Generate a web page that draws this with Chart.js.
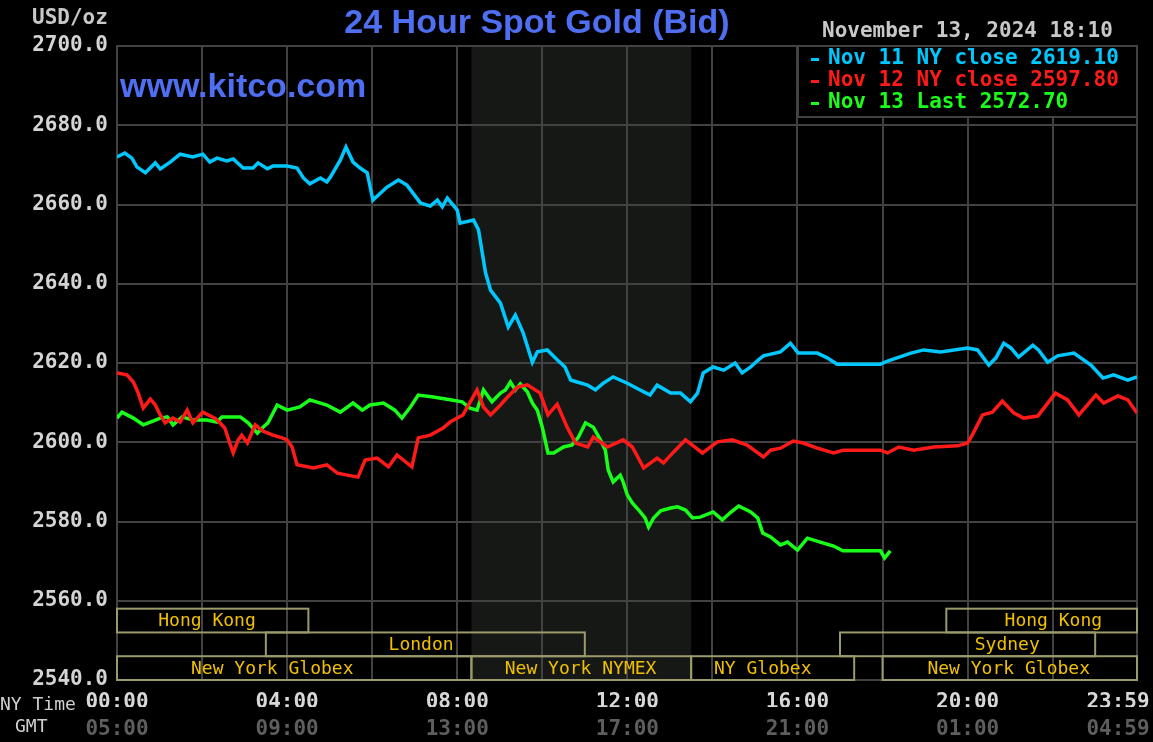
<!DOCTYPE html>
<html>
<head>
<meta charset="utf-8">
<title>24 Hour Spot Gold (Bid)</title>
<script src="https://cdn.jsdelivr.net/npm/chart.js@4.4.1/dist/chart.umd.min.js"></script>
<style>
  html, body { margin: 0; padding: 0; background: #000; }
  canvas { display: block; }
</style>
</head>
<body>
<canvas id="gold" width="1153" height="742"></canvas>
<script>
// times are NY minutes after midnight, values in USD/oz
const blueTime = [0,11,21,28,40,54,61,75,89,107,121,131,141,155,164,178,192,199,212,220,
  240,254,263,272,287,296,301,315,323,333,343,353,361,381,397,409,428,442,452,459,
  466,480,484,503,510,520,527,541,552,562,573,586,593,607,621,632,640,649,664,675,
  686,700,720,738,752,762,781,795,809,819,827,841,856,872,882,894,905,912,936,950,
  961,988,1002,1016,1077,1087,1120,1138,1162,1200,1214,1230,1240,1251,1261,1272,1292,1300,1313,1327,
  1350,1374,1391,1406,1426,1439];
const blueValue = [2672.0,2673.0,2671.7,2669.5,2668.0,2670.5,2669.0,2670.7,2672.7,2672.0,2672.7,2670.7,2671.7,2671.0,2671.5,2669.2,2669.2,2670.5,2669.0,2669.7,
  2669.7,2669.2,2666.7,2665.2,2666.7,2665.7,2666.9,2671.2,2674.5,2670.7,2669.2,2668.0,2661.1,2664.4,2666.2,2664.9,2660.4,2659.6,2661.1,2659.4,
  2661.6,2658.6,2655.3,2656.1,2653.6,2642.7,2638.4,2635.1,2629.1,2632.1,2627.6,2620.2,2622.8,2623.3,2620.8,2619.0,2615.7,2615.2,2614.4,2613.2,
  2614.9,2616.5,2614.9,2613.2,2611.9,2614.4,2612.4,2612.4,2610.2,2612.4,2617.5,2619.0,2618.2,2620.0,2617.5,2619.0,2620.8,2621.8,2622.8,2625.0,
  2622.5,2622.5,2621.3,2619.7,2619.7,2620.5,2622.5,2623.3,2622.8,2623.8,2623.3,2619.5,2621.3,2625.0,2623.8,2621.5,2624.5,2623.3,2620.2,2621.8,
  2622.5,2619.5,2616.2,2617.0,2615.7,2616.5];

const redTime = [0,14,23,30,37,47,54,61,68,79,89,99,107,121,138,145,152,160,164,171,
  176,184,195,206,220,233,240,247,254,277,296,311,325,340,350,367,383,395,416,425,
  442,460,470,488,508,517,527,541,551,565,579,597,608,621,635,647,664,672,692,714,
  727,743,762,771,785,802,826,847,868,889,912,922,936,954,968,988,1011,1025,1077,1087,
  1103,1124,1152,1186,1200,1208,1221,1235,1249,1265,1279,1299,1324,1341,1357,1381,1392,1412,1426,1439];
const redValue = [2617.5,2617.0,2615.2,2612.4,2608.6,2610.9,2609.4,2606.9,2604.9,2606.1,2605.1,2608.1,2604.9,2607.6,2606.1,2604.9,2603.6,2599.3,2597.3,2600.6,
  2601.8,2599.8,2604.4,2602.8,2601.8,2601.1,2600.6,2598.8,2594.3,2593.5,2594.3,2592.2,2591.7,2591.2,2595.5,2596.0,2593.8,2596.8,2593.8,2601.1,
  2601.8,2603.6,2605.1,2606.9,2613.2,2608.9,2606.9,2609.4,2611.4,2613.9,2614.5,2612.4,2606.9,2609.6,2603.8,2599.8,2598.8,2601.3,2598.8,2600.6,
  2598.8,2593.5,2596.0,2594.8,2597.5,2600.6,2597.3,2600.1,2600.6,2599.3,2596.3,2598.0,2598.5,2600.3,2599.8,2598.5,2597.3,2598.0,2598.0,2597.3,
  2598.8,2598.0,2598.8,2599.1,2599.8,2602.3,2606.9,2607.6,2610.4,2607.4,2606.1,2606.6,2612.4,2610.7,2606.9,2611.9,2609.9,2611.7,2610.7,2607.4];

const greenTime = [0,7,23,37,47,61,71,79,92,107,127,141,148,174,185,198,206,213,226,240,
  258,272,296,315,333,346,357,376,392,402,414,425,446,470,487,498,508,517,529,541,
  548,555,562,569,579,586,593,600,608,616,630,642,651,661,672,682,689,693,700,710,
  714,720,727,736,745,750,757,767,781,791,802,812,823,841,854,865,877,894,904,911,
  922,936,946,960,974,992,1011,1024,1077,1083,1091];
const greenValue = [2606.1,2607.6,2606.1,2604.4,2605.1,2606.1,2606.4,2604.4,2606.4,2605.6,2605.6,2605.1,2606.4,2606.4,2604.9,2602.3,2603.8,2604.9,2609.4,2608.1,
  2608.9,2610.7,2609.4,2607.6,2609.9,2608.1,2609.4,2609.9,2608.1,2606.1,2608.9,2611.9,2611.4,2610.7,2610.2,2608.6,2608.1,2613.2,2610.2,2612.4,
  2613.2,2615.2,2613.2,2614.7,2612.7,2609.9,2608.1,2603.8,2597.3,2597.3,2598.8,2599.3,2601.3,2604.9,2603.8,2600.6,2598.0,2593.0,2590.0,2591.7,
  2590.0,2586.7,2584.7,2582.9,2580.9,2578.6,2580.9,2582.7,2583.4,2583.7,2582.9,2580.9,2581.1,2582.4,2580.4,2582.2,2583.9,2582.4,2580.9,2577.1,
  2576.1,2574.1,2574.8,2572.8,2575.8,2574.8,2573.8,2572.6,2572.6,2570.8,2572.6];

const seriesLabels = ['Nov 11 NY close 2619.10', 'Nov 12 NY close 2597.80', 'Nov 13 Last 2572.70'];

// x axis: grid every 2 hours, labels every 4 hours
const gridMinutes = [0,120,240,360,480,600,720,840,960,1080,1200,1320,1439];
const labelMinutes = [0,240,480,720,960,1200,1439];
const nyLabels = ['00:00','04:00','08:00','12:00','16:00','20:00','23:59'];
const gmtLabels = ['05:00','09:00','13:00','17:00','21:00','01:00','04:59'];

// NYMEX pit session (shaded)
const nymexStart = 500, nymexEnd = 810;

// trading sessions at the foot of the chart
const sessionNames = ['Hong Kong','Hong Kong','London','Sydney','New York Globex','New York NYMEX','NY Globex','New York Globex'];
const sessionStart = [0,1170,210,1020,0,500,810,1080];
const sessionEnd = [270,1439,660,1380,500,810,1040,1439];
const sessionRow = [0,0,1,1,2,2,2,2];
const sessionLabelAt = [127,1321,429,1256,219,654,911,1258];
const rowTop = [2558,2552,2546];
const rowBottom = [2552,2546,2540];

const gridColor = '#424242';
const mono = '"DejaVu Sans Mono", "Liberation Mono", monospace';
const colors = ['#00c8ff', '#ff1a1a', '#1aff1a'];

const toPoints = (t, v) => t.map((m, i) => ({ x: m, y: v[i] }));

// last label sits against the canvas edge, so pad it to the left
const edgeLabel = (s, i, n) => (i === n - 1 ? s + '   ' : s);

const decor = {
  id: 'decor',
  beforeDraw(chart) {
    const { ctx, chartArea: a, scales: { x } } = chart;
    ctx.save();
    ctx.fillStyle = '#000';
    ctx.fillRect(0, 0, chart.width, chart.height);
    const x0 = x.getPixelForValue(nymexStart);
    const x1 = x.getPixelForValue(nymexEnd);
    ctx.fillStyle = '#151815';
    ctx.fillRect(x0, a.top, x1 - x0, a.bottom - a.top);
    ctx.restore();
  },
  afterDraw(chart) {
    const { ctx, scales: { x, y } } = chart;
    ctx.save();

    // session boxes
    ctx.strokeStyle = '#9a9a6a';
    ctx.lineWidth = 2;
    ctx.font = '18px ' + mono;
    ctx.fillStyle = '#f0c000';
    ctx.textAlign = 'center';
    ctx.textBaseline = 'middle';
    sessionNames.forEach((name, i) => {
      const x0 = x.getPixelForValue(sessionStart[i]);
      const x1 = x.getPixelForValue(sessionEnd[i]);
      const y0 = y.getPixelForValue(rowTop[sessionRow[i]]);
      const y1 = y.getPixelForValue(rowBottom[sessionRow[i]]);
      ctx.strokeRect(x0, y0, x1 - x0, y1 - y0);
      ctx.fillText(name, x.getPixelForValue(sessionLabelAt[i]), (y0 + y1) / 2 + 1);
    });

    // title and watermark
    ctx.font = 'bold 34px "Liberation Sans", Arial, sans-serif';
    ctx.fillStyle = '#4f6ff2';
    ctx.fillText('24 Hour Spot Gold (Bid)', 537, 24);
    ctx.textAlign = 'left';
    ctx.textBaseline = 'alphabetic';
    ctx.fillText('www.kitco.com', 120, 97);

    // date, unit
    ctx.textBaseline = 'middle';
    ctx.font = 'bold 21px ' + mono;
    ctx.fillStyle = '#c8c8c8';
    ctx.fillText('November 13, 2024 18:10', 822, 32);
    ctx.fillText('USD/oz', 32, 19);

    // legend box
    ctx.fillStyle = '#000';
    ctx.fillRect(798, 46, 339, 71);
    ctx.strokeStyle = gridColor;
    ctx.strokeRect(798, 46, 339, 71);
    chart.data.datasets.forEach((ds, i) => {
      const cy = 59 + i * 22;
      ctx.fillStyle = ds.borderColor;
      ctx.fillRect(811, cy - 1, 8, 3);
      ctx.fillText(ds.label, 828, cy);
    });

    // axis captions
    ctx.font = '18px ' + mono;
    ctx.fillStyle = '#d0d0d0';
    ctx.fillText('NY Time', 0, 705);
    ctx.fillText('GMT', 15, 727);
    ctx.restore();
  }
};

new Chart(document.getElementById('gold'), {
  type: 'line',
  data: {
    datasets: [
      { label: seriesLabels[0], data: toPoints(blueTime, blueValue), borderColor: colors[0], xAxisID: 'x', yAxisID: 'y' },
      { label: seriesLabels[1], data: toPoints(redTime, redValue), borderColor: colors[1], xAxisID: 'x', yAxisID: 'y' },
      { label: seriesLabels[2], data: toPoints(greenTime, greenValue), borderColor: colors[2], xAxisID: 'x', yAxisID: 'y' }
    ]
  },
  options: {
    responsive: false,
    animation: false,
    elements: { point: { radius: 0 }, line: { borderWidth: 3.5, tension: 0 } },
    layout: { padding: { top: 46, right: 16, left: 0, bottom: 0 } },
    plugins: { legend: { display: false }, tooltip: { enabled: false } },
    scales: {
      x: {
        type: 'linear', min: 0, max: 1439, weight: 0,
        afterBuildTicks: s => { s.ticks = gridMinutes.map(v => ({ value: v })); },
        afterFit: s => { s.height = 27; s.paddingLeft = 0; s.paddingRight = 0; },
        grid: { color: gridColor, lineWidth: 2, drawTicks: false },
        border: { color: gridColor, width: 2 },
        ticks: {
          autoSkip: false, maxRotation: 0, padding: 10, color: '#d8d8d8',
          font: { family: mono, size: 21, weight: 'bold' },
          callback: v => {
            const i = labelMinutes.indexOf(v);
            return i < 0 ? '' : edgeLabel(nyLabels[i], i, nyLabels.length);
          }
        }
      },
      x2: {
        type: 'linear', position: 'bottom', min: 0, max: 1439, weight: 1,
        afterBuildTicks: s => { s.ticks = labelMinutes.map(v => ({ value: v })); },
        afterFit: s => { s.height = 35; s.paddingLeft = 0; s.paddingRight = 0; },
        grid: { display: false },
        border: { display: false },
        ticks: {
          autoSkip: false, maxRotation: 0, padding: 2, color: '#5e5e5e',
          font: { family: mono, size: 21, weight: 'bold' },
          callback: v => {
            const i = labelMinutes.indexOf(v);
            return edgeLabel(gmtLabels[i], i, gmtLabels.length);
          }
        }
      },
      y: {
        min: 2540, max: 2700,
        afterFit: s => { s.width = 117; s.paddingTop = 0; s.paddingBottom = 0; },
        grid: { color: gridColor, lineWidth: 2, drawTicks: false },
        border: { color: gridColor, width: 2 },
        ticks: {
          stepSize: 20, padding: 9, color: '#d4d4d4',
          font: { family: mono, size: 21, weight: 'bold' },
          callback: v => v.toFixed(1)
        }
      }
    }
  },
  plugins: [decor]
});
</script>
</body>
</html>
